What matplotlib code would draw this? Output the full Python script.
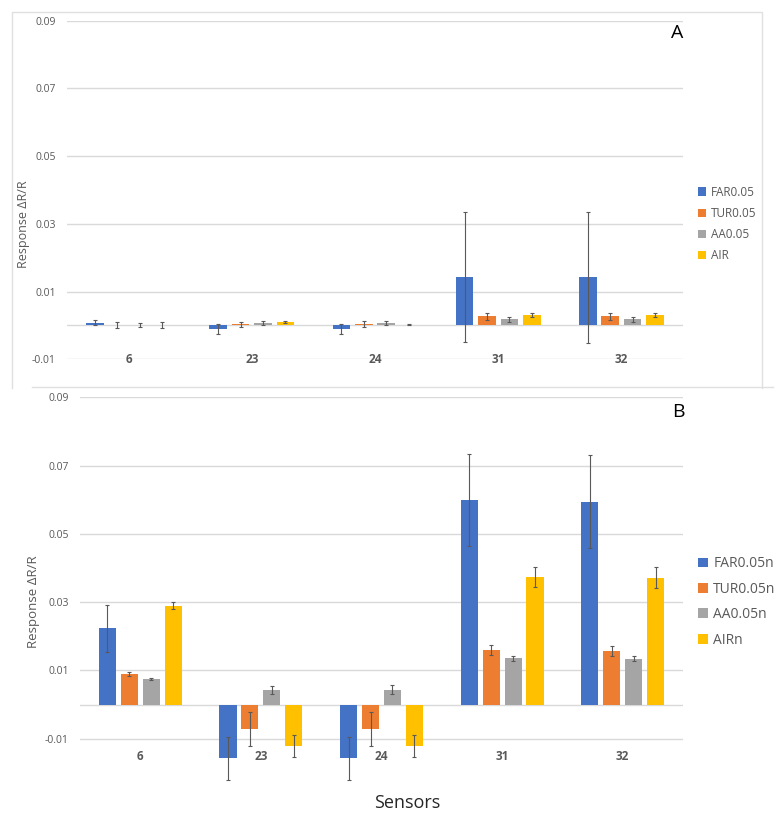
import numpy as np
import matplotlib
matplotlib.use("Agg")
import matplotlib.pyplot as plt
from matplotlib.lines import Line2D

plt.rcParams['font.family'] = ['Open Sans', 'DejaVu Sans']

# ---data---
sensors = ["6", "23", "24", "31", "32"]

series_a = ["FAR0.05", "TUR0.05", "AA0.05", "AIR"]
far_a = [0.0008, -0.0010, -0.0010, 0.0143, 0.0142]
tur_a = [0.0001, 0.0003, 0.0003, 0.0027, 0.0027]
aa_a = [0.0001, 0.0007, 0.0008, 0.0018, 0.0018]
air_a = [0.0001, 0.0010, 0.0002, 0.0030, 0.0030]
far_a_err = [0.0007, 0.0015, 0.0015, 0.0193, 0.0193]
tur_a_err = [0.0010, 0.0008, 0.0009, 0.0010, 0.0010]
aa_a_err = [0.0007, 0.0006, 0.0006, 0.0007, 0.0007]
air_a_err = [0.0010, 0.0003, 0.0002, 0.0006, 0.0006]

series_b = ["FAR0.05n", "TUR0.05n", "AA0.05n", "AIRn"]
far_b = [0.0223, -0.0157, -0.0157, 0.0599, 0.0594]
tur_b = [0.0089, -0.0071, -0.0071, 0.0159, 0.0158]
aa_b = [0.0075, 0.0043, 0.0044, 0.0136, 0.0134]
air_b = [0.0289, -0.0121, -0.0121, 0.0374, 0.0372]
far_b_err = [0.0069, 0.0063, 0.0063, 0.0135, 0.0136]
tur_b_err = [0.0006, 0.0049, 0.0049, 0.0015, 0.0015]
aa_b_err = [0.0002, 0.0012, 0.0012, 0.0007, 0.0007]
air_b_err = [0.0010, 0.0032, 0.0032, 0.0030, 0.0030]

yticks = [-0.01, 0.01, 0.03, 0.05, 0.07, 0.09]
colors = ["#4472C4", "#ED7D31", "#A5A5A5", "#FFC000"]
grid_col = "#D9D9D9"
text_col = "#595959"

W, H = 783, 818
fig = plt.figure(figsize=(W / 100, H / 100), dpi=100)


def px_axes(left, right, top, bottom):
    return fig.add_axes([left / W, 1 - bottom / H, (right - left) / W, (bottom - top) / H])


def draw_panel(ax, values, errs, names, ylim, label_y, fs_leg, leg_y, leg_space, ylab_fs):
    x = np.arange(len(sensors))
    step, width = 0.182, 0.142
    ax.set_xlim(-0.5, len(sensors) - 0.5)
    ax.set_ylim(*ylim)
    for s in ax.spines.values():
        s.set_visible(False)
    ax.set_yticks(yticks)
    ax.set_yticklabels([f"{t:.2f}" for t in yticks], fontsize=7.5, color=text_col)
    ax.tick_params(axis='y', length=0, pad=8)
    ax.set_xticks([])
    for t in yticks:
        ax.axhline(t, color=grid_col, lw=1, zorder=0)
    ax.axhline(0, color=grid_col, lw=1, zorder=0)
    for i, (vals, err) in enumerate(zip(values, errs)):
        xs = x + (i - 1.5) * step
        ax.bar(xs, vals, width, color=colors[i], label=names[i], zorder=2)
        ax.errorbar(xs, vals, yerr=err, fmt='none', ecolor="#595959", elinewidth=0.8,
                    capsize=1.6, capthick=0.8, zorder=3, clip_on=False)
    for xi, s in zip(x, sensors):
        ax.text(xi, label_y, s, ha='center', va='center', fontsize=8.5, fontweight='bold',
                color=text_col, clip_on=False)
    ax.set_ylabel("Response ΔR/R", fontsize=ylab_fs, color=text_col)
    ax.legend(loc='center left', bbox_to_anchor=(698 / W, 1 - leg_y / H),
              bbox_transform=fig.transFigure, frameon=False, fontsize=fs_leg,
              handlelength=0.7, handleheight=0.7, handletextpad=0.4,
              labelspacing=leg_space, borderpad=0, borderaxespad=0, labelcolor=text_col)


# ---panel A---
ax_a = px_axes(67, 683, 20.7, 359.3)
draw_panel(ax_a, [far_a, tur_a, aa_a, air_a], [far_a_err, tur_a_err, aa_a_err, air_a_err],
           series_a, (-0.01, 0.09), -0.01, 8.5, 224, 0.7, 9)
ax_a.yaxis.set_label_coords(30 / W, 1 - 224 / H, transform=fig.transFigure)
fig.text(677 / W, 1 - 33 / H, "A", fontsize=14, ha='center', va='center', color='black')

# ---panel B---
ax_b = px_axes(80, 683, 397.3, 783.1)
draw_panel(ax_b, [far_b, tur_b, aa_b, air_b], [far_b_err, tur_b_err, aa_b_err, air_b_err],
           series_b, (-0.023, 0.09), -0.01535, 10, 602, 0.75, 9.5)
ax_b.yaxis.set_label_coords(40 / W, 1 - 602 / H, transform=fig.transFigure)
fig.text(678 / W, 1 - 412 / H, "B", fontsize=14, ha='center', va='center', color='black')
fig.text(407 / W, 1 - 803 / H, "Sensors", fontsize=13, ha='center', va='center', color='#262626')

# panel frames
box = "#E0E0E0"
fig.add_artist(Line2D([12 / W, 12 / W, 762 / W, 762 / W], [1 - 388 / H, 1 - 12 / H, 1 - 12 / H, 1 - 388 / H],
                      color=box, lw=1))
fig.add_artist(Line2D([32 / W, 773 / W], [1 - 387 / H, 1 - 387 / H], color=box, lw=1))

fig.savefig("out.png", dpi=100)
